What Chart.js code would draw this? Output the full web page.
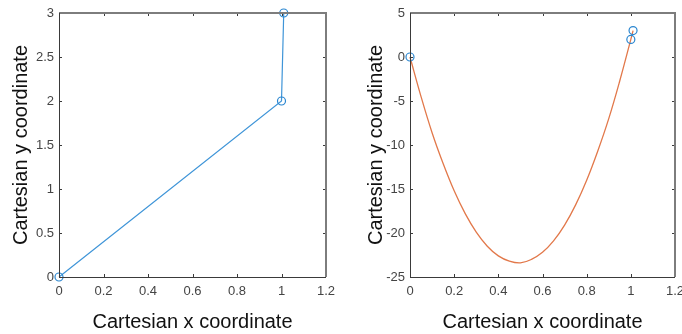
<!DOCTYPE html>
<html>
<head>
<meta charset="utf-8">
<script src="https://cdn.jsdelivr.net/npm/chart.js@4/dist/chart.umd.min.js"></script>
<style>
  html, body { margin: 0; padding: 0; background: #fff; }
  #wrap { position: relative; width: 682px; height: 334px; overflow: hidden; }
  .c { position: absolute; top: 0; height: 334px; }
  #c1 { left: 0; width: 341px; }
  #c2 { left: 341px; width: 341px; }
</style>
</head>
<body>
<div id="wrap">
  <div class="c" id="c1"><canvas id="left"></canvas></div>
  <div class="c" id="c2"><canvas id="right"></canvas></div>
</div>
<script>
// ---- data ----
const pointX = [0, 1, 1.01];
const pointY = [0, 2, 3];

const curveX = [0, 0.05, 0.1, 0.15, 0.2, 0.25, 0.3, 0.35, 0.4, 0.45, 0.5, 0.55, 0.6, 0.65, 0.7, 0.75, 0.8, 0.85, 0.9, 0.95, 1.0, 1.01];
const curveY = [0, -4.5, -8.6, -12.1, -15.2, -17.8, -19.9, -21.5, -22.6, -23.2, -23.4, -23.0, -22.2, -20.9, -19.1, -16.8, -14.0, -10.7, -7.0, -2.7, 2.0, 3.0];

const xTicks = [0, 0.2, 0.4, 0.6, 0.8, 1, 1.2];
const yTicksLeft = [0, 0.5, 1, 1.5, 2, 2.5, 3];
const yTicksRight = [-25, -20, -15, -10, -5, 0, 5];

const xTitle = 'Cartesian x coordinate';
const yTitle = 'Cartesian y coordinate';

// ---- helpers ----
const toXY = (xs, ys) => xs.map((x, i) => ({ x: x, y: ys[i] }));
const FONT = '"Liberation Sans", Arial, sans-serif';

const boxPlugin = {
  id: 'matlabBox',
  afterDraw(chart) {
    const { ctx, chartArea: a, scales } = chart;
    const tl = 3;
    ctx.save();
    ctx.strokeStyle = '#3a3a3a';
    ctx.lineWidth = 1;
    ctx.beginPath();
    scales.x.ticks.forEach(t => {
      const px = Math.round(scales.x.getPixelForValue(t.value)) + 0.5;
      ctx.moveTo(px, a.bottom); ctx.lineTo(px, a.bottom - tl);
      ctx.moveTo(px, a.top); ctx.lineTo(px, a.top + tl);
    });
    scales.y.ticks.forEach(t => {
      const py = Math.round(scales.y.getPixelForValue(t.value)) + 0.5;
      ctx.moveTo(a.left, py); ctx.lineTo(a.left + tl, py);
      ctx.moveTo(a.right, py); ctx.lineTo(a.right - tl, py);
    });
    ctx.stroke();
    ctx.strokeStyle = '#7d7d7d';
    ctx.lineWidth = 2;
    ctx.beginPath();
    ctx.moveTo(a.left, a.top); ctx.lineTo(a.right, a.top); ctx.lineTo(a.right, a.bottom);
    ctx.stroke();
    ctx.strokeStyle = '#3a3a3a';
    ctx.lineWidth = 1;
    ctx.beginPath();
    ctx.moveTo(Math.round(a.left) + 0.5, a.top);
    ctx.lineTo(Math.round(a.left) + 0.5, Math.round(a.bottom) + 0.5);
    ctx.lineTo(a.right, Math.round(a.bottom) + 0.5);
    ctx.stroke();
    ctx.restore();
  }
};

function makeOptions(yTicks, yMin, yMax, yWidth, padRight, yTitlePad) {
  return {
    responsive: true,
    maintainAspectRatio: false,
    animation: false,
    layout: { padding: { top: 13, right: padRight, bottom: 0, left: 0 } },
    plugins: { legend: { display: false }, tooltip: { enabled: false } },
    scales: {
      x: {
        type: 'linear',
        min: 0, max: 1.2,
        afterBuildTicks: s => { s.ticks = xTicks.map(v => ({ value: v })); },
        afterFit: s => { s.height = 57; s.paddingLeft = 0; s.paddingRight = 0; },
        grid: { display: false, drawTicks: false },
        border: { display: false },
        ticks: {
          autoSkip: false, maxRotation: 0, padding: 7,
          color: '#444',
          font: { family: FONT, size: 13 },
          callback: v => String(v)
        },
        title: {
          display: true, text: xTitle, color: '#111',
          font: { family: FONT, size: 20 },
          padding: { top: 0, bottom: 0 }
        }
      },
      y: {
        type: 'linear',
        min: yMin, max: yMax,
        afterBuildTicks: s => { s.ticks = yTicks.map(v => ({ value: v })); },
        afterFit: s => { s.width = yWidth; s.paddingTop = 0; s.paddingBottom = 0; },
        grid: { display: false, drawTicks: false },
        border: { display: false },
        ticks: {
          autoSkip: false, padding: 5,
          color: '#444',
          font: { family: FONT, size: 13 },
          callback: v => String(v)
        },
        title: {
          display: true, text: yTitle, color: '#111',
          font: { family: FONT, size: 20 },
          padding: { top: yTitlePad, bottom: 0 }
        }
      }
    }
  };
}

new Chart(document.getElementById('left'), {
  type: 'scatter',
  data: {
    datasets: [{
      data: toXY(pointX, pointY),
      showLine: true,
      borderColor: '#3f95d8',
      borderWidth: 1.2,
      pointRadius: 4,
      pointBorderWidth: 1.2,
      pointBorderColor: '#2a86d0',
      pointBackgroundColor: 'rgba(0,0,0,0)',
      clip: false
    }]
  },
  options: makeOptions(yTicksLeft, 0, 3, 59, 15, 9),
  plugins: [boxPlugin]
});

new Chart(document.getElementById('right'), {
  type: 'scatter',
  data: {
    datasets: [{
      data: toXY(pointX, pointY),
      showLine: false,
      pointRadius: 4,
      pointBorderWidth: 1.2,
      pointBorderColor: '#2a86d0',
      pointBackgroundColor: 'rgba(0,0,0,0)',
      clip: false
    }, {
      data: toXY(curveX, curveY),
      showLine: true,
      tension: 0.4,
      borderColor: '#e2784a',
      borderWidth: 1.3,
      pointRadius: 0,
      clip: false
    }]
  },
  options: makeOptions(yTicksRight, -25, 5, 69, 7, 23),
  plugins: [boxPlugin]
});
</script>
</body>
</html>
